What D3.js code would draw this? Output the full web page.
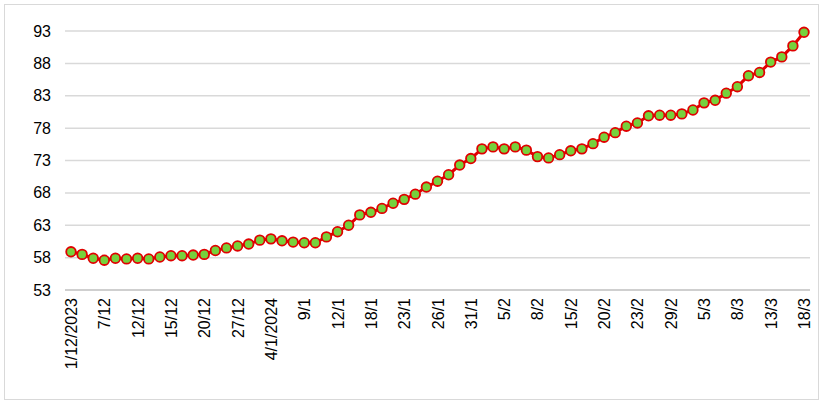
<!DOCTYPE html>
<html><head><meta charset="utf-8">
<script src="https://cdn.jsdelivr.net/npm/d3@7.9.0/dist/d3.min.js"></script>
<style>body{margin:0;background:#fff}svg{font-family:Arial,"Liberation Sans",sans-serif}</style>
</head><body>
<svg id="chart" width="824" height="409"></svg>
<script>
// 67 trading days, a label every 3rd point
const tickLabels = ["1/12/2023","7/12","12/12","15/12","20/12","27/12","4/1/2024","9/1","12/1","18/1","23/1","26/1","31/1","5/2","8/2","15/2","20/2","23/2","29/2","5/3","8/3","13/3","18/3"];
const values = [58.9,58.5,57.9,57.6,57.9,57.8,57.9,57.8,58.1,58.3,58.3,58.4,58.5,59.1,59.5,59.8,60.1,60.7,60.9,60.6,
  60.4,60.3,60.3,61.2,62.0,63.0,64.6,65.0,65.6,66.4,67.0,67.8,68.9,69.8,70.8,72.3,73.3,74.8,75.1,74.8,
  75.1,74.6,73.6,73.4,73.9,74.5,74.8,75.6,76.6,77.3,78.3,78.8,79.9,80.0,80.0,80.2,80.8,81.9,82.3,83.4,
  84.4,86.1,86.6,88.2,89.0,90.7,92.8];
const yTicks = [53,58,63,68,73,78,83,88,93];

const svg = d3.select("#chart");
svg.append("rect").attr("x",4.5).attr("y",4.5).attr("width",814).attr("height",395)
  .attr("fill","none").attr("stroke","#d9d9d9");

const x = d3.scaleLinear().domain([0, values.length-1]).range([71, 804]);
const y = d3.scaleLinear().domain([53, 93]).range([290, 31]);

// gridlines
svg.append("g").selectAll("line").data(yTicks).join("line")
  .attr("x1",65).attr("x2",810).attr("y1",d=>y(d)).attr("y2",d=>y(d))
  .attr("stroke",d=>d===53?"#bfbfbf":"#d9d9d9").attr("stroke-width",1.5);

svg.append("g").selectAll("text").data(yTicks).join("text")
  .attr("x",51).attr("y",d=>y(d)).attr("dy","0.35em").attr("text-anchor","end")
  .attr("font-size",16).attr("fill","#000").text(d=>d);

svg.append("g").selectAll("text").data(tickLabels).join("text")
  .attr("transform",(d,i)=>`translate(${x(i*3)+6},298) rotate(-90)`)
  .attr("text-anchor","end").attr("font-size",16).attr("fill","#000").text(d=>d);

svg.append("path").datum(values)
  .attr("d", d3.line().x((d,i)=>x(i)).y(d=>y(d)))
  .attr("fill","none").attr("stroke","#e00000").attr("stroke-width",3);

svg.append("g").selectAll("circle").data(values).join("circle")
  .attr("cx",(d,i)=>x(i)).attr("cy",d=>y(d)).attr("r",4.8)
  .attr("fill","#76d13c").attr("stroke","#e00000").attr("stroke-width",1.8);
</script>
</body></html>
